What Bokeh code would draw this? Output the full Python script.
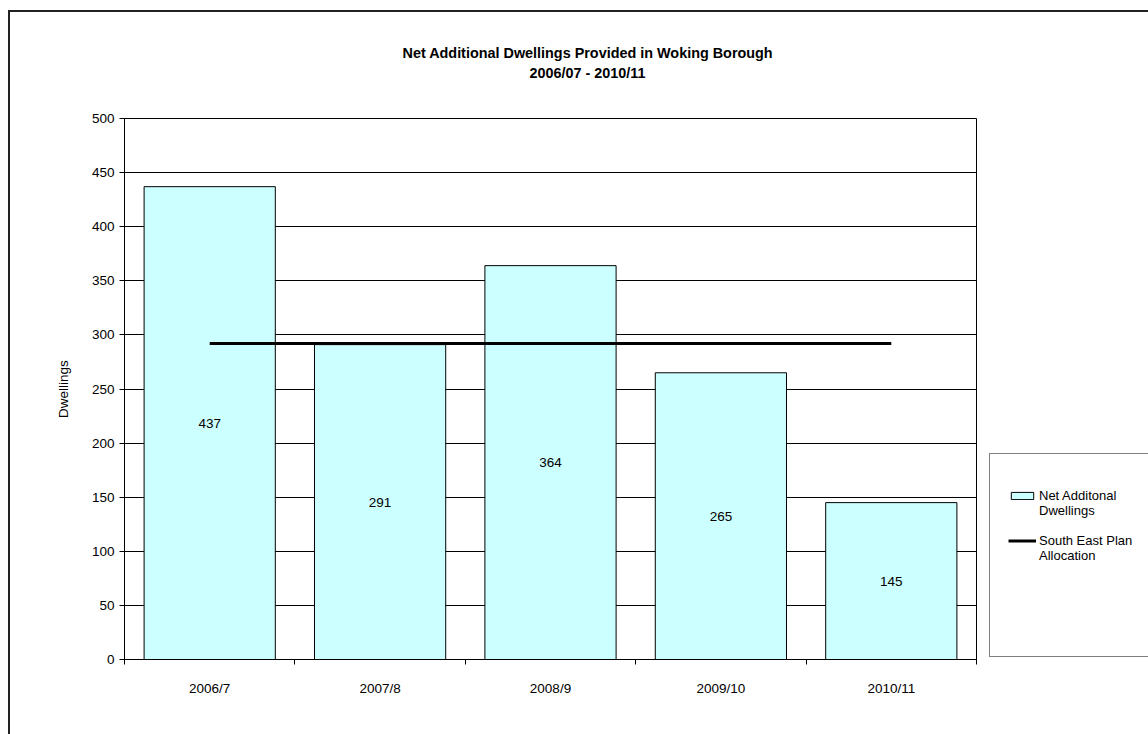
from bokeh.plotting import figure
from bokeh.layouts import row
from bokeh.models import (Range1d, LinearAxis, FixedTicker, Title, LabelSet,
                          ColumnDataSource, Legend, LegendItem)
from bokeh.core.properties import value
from bokeh.embed import file_html
from bokeh.resources import INLINE

# ---- data ----
categories = ["2006/7", "2007/8", "2008/9", "2009/10", "2010/11"]
dwellings = [437, 291, 364, 265, 145]
allocation = [292, 292, 292, 292, 292]
y_ticks = [0, 50, 100, 150, 200, 250, 300, 350, 400, 450, 500]
title_lines = ["Net Additional Dwellings Provided in Woking Borough", "2006/07 - 2010/11"]
bar_legend = ["Net Additonal", "Dwellings"]
line_legend = ["South East Plan", "Allocation"]
y_label = "Dwellings"

FONT = "Liberation Sans"
FS = "13.5px"
BAR_FILL = "#CCFFFF"
n = len(categories)
xpos = [i + 0.5 for i in range(n)]   # category centres on an index scale

# ---------------- main chart ----------------
p = figure(width=989, height=734, x_range=Range1d(0, n), y_range=Range1d(0, 500),
           output_backend="svg", toolbar_location=None, x_axis_location=None, title=None,
           min_border_left=124, min_border_right=13, min_border_top=118,
           min_border_bottom=75, background_fill_color="white", border_fill_color="white")
p.outline_line_color = "black"
p.outline_line_width = 1

xaxis = LinearAxis(
    ticker=FixedTicker(ticks=xpos, minor_ticks=list(range(n + 1))),
    major_label_overrides={x: c for x, c in zip(xpos, categories)},
    major_tick_out=0, major_tick_in=0, minor_tick_out=5, minor_tick_in=0,
    major_label_standoff=16, axis_line_color="black", minor_tick_line_color="black",
    major_label_text_font=FONT, major_label_text_font_size=FS,
    major_label_text_color="black")
p.add_layout(xaxis, "below")

ya = p.yaxis[0]
ya.ticker = FixedTicker(ticks=y_ticks)
ya.major_tick_out = 5
ya.major_tick_in = 0
ya.minor_tick_line_color = None
ya.major_label_standoff = 5
ya.axis_line_color = "black"
ya.major_tick_line_color = "black"
ya.major_label_text_font = FONT
ya.major_label_text_font_size = FS
ya.major_label_text_color = "black"
ya.axis_label = y_label
ya.axis_label_text_font = FONT
ya.axis_label_text_font_size = FS
ya.axis_label_text_font_style = "normal"
ya.axis_label_text_color = "black"
ya.axis_label_standoff = 18

p.ygrid.ticker = FixedTicker(ticks=y_ticks)
p.ygrid.grid_line_color = "black"
p.ygrid.grid_line_width = 1
for g in p.xgrid:
    g.grid_line_color = None

src = ColumnDataSource(dict(x=xpos, cat=categories, val=dwellings,
                            mid=[v / 2 for v in dwellings],
                            lab=[str(v) for v in dwellings]))
p.vbar(x="x", top="val", width=0.77, source=src,
       fill_color=BAR_FILL, line_color="black", line_width=1)
p.line(x=xpos, y=allocation, line_width=3, line_color="black")

p.add_layout(LabelSet(x="x", y="mid", text="lab", source=src, text_align="center",
                      text_baseline="middle", text_font=value(FONT), text_font_size=FS,
                      text_color="black"))

# titles: spacer closest to the plot, then line 2, then line 1
spacer = Title(text=" ", standoff=19, text_font=FONT, text_font_size="14.4px")
t2 = Title(text=title_lines[1], align="left", offset=405, standoff=2,
           text_font=FONT, text_font_size="14.4px", text_font_style="bold",
           text_color="black")
t1 = Title(text=title_lines[0], align="left", offset=278, standoff=2,
           text_font=FONT, text_font_size="14.4px", text_font_style="bold",
           text_color="black")
p.add_layout(spacer, "above")
p.add_layout(t2, "above")
p.add_layout(t1, "above")

# ---------------- legend panel ----------------
q = figure(width=159, height=734, x_range=Range1d(0, 1), y_range=Range1d(0, 1),
           output_backend="svg", toolbar_location=None, title=None,
           x_axis_location=None, y_axis_location=None,
           min_border_left=0, min_border_right=0, min_border_top=0, min_border_bottom=0,
           background_fill_color="white", border_fill_color="white")
q.outline_line_color = None
q.xgrid.grid_line_color = None
q.ygrid.grid_line_color = None

# key renderers: styled like the chart's marks, drawn off-range so only their keys show
key_bar = q.vbar(x=[5], top=[1], width=0.5, fill_color=BAR_FILL, line_color="black",
                 line_width=1)
key_line = q.line(x=[5, 6], y=[0.5, 0.5], line_width=3, line_color="black")
ghost = q.line(x=[5, 6], y=[0.5, 0.5], line_alpha=0)

items = [LegendItem(label=bar_legend[0], renderers=[key_bar]),
         LegendItem(label=bar_legend[1], renderers=[ghost]),
         LegendItem(label=" ", renderers=[ghost]),
         LegendItem(label=line_legend[0], renderers=[key_line]),
         LegendItem(label=line_legend[1], renderers=[ghost])]
items += [LegendItem(label=" ", renderers=[ghost]) for _ in range(5)]

legend = Legend(items=items, location=(0, 2), padding=18, margin=0, spacing=0,
                glyph_width=28, glyph_height=9, label_standoff=3, label_height=15,
                label_width=160, title=" ", title_text_font_size="13px",
                title_standoff=1,
                border_line_color="black", border_line_width=1,
                background_fill_color="white",
                label_text_font=FONT, label_text_font_size="13px",
                label_text_color="black")
q.add_layout(legend, "center")

page = row(p, q, spacing=0)
# outer chart-area frame (only its top and left edges fall inside the window)
page.stylesheets = [":host::after { content: ''; position: absolute; left: 8px; top: 10px; "
                    "right: 0px; bottom: 0px; border-top: 2px solid #222; "
                    "border-left: 2px solid #222; pointer-events: none; }"]

open("out.html", "w").write(file_html(page, INLINE))
